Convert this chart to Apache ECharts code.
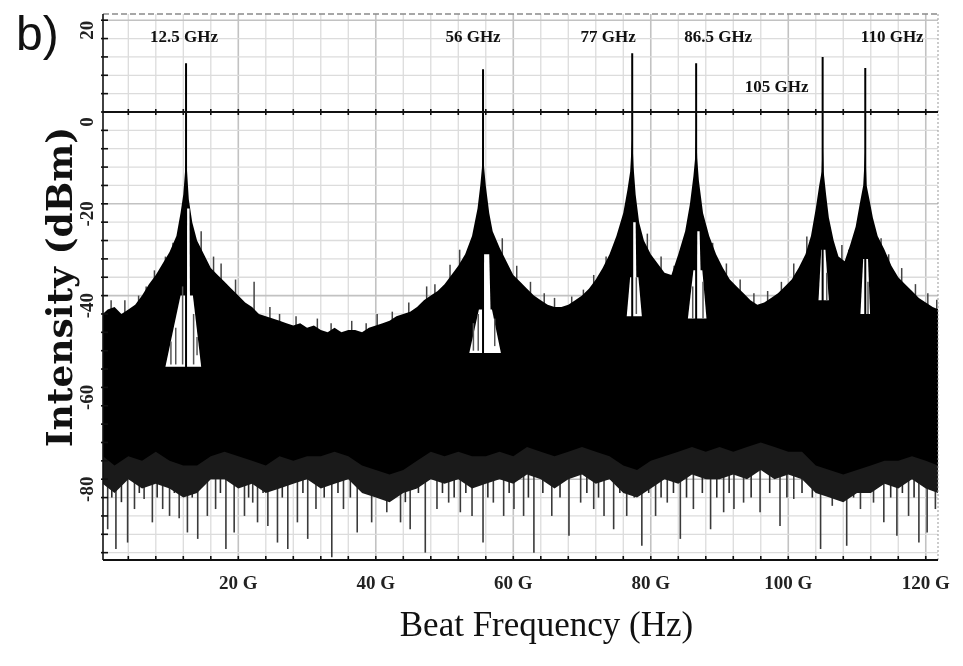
<!DOCTYPE html>
<html><head><meta charset="utf-8">
<script src="https://cdn.jsdelivr.net/npm/echarts@6/dist/echarts.min.js"></script>
<style>html,body{margin:0;padding:0;background:#fff}#c{width:963px;height:666px}</style>
</head><body><div id="c"></div>
<script>
// ---------- tick / grid values ----------
const xTickLabels = [20, 40, 60, 80, 100, 120];
const yTickLabels = [-80, -60, -40, -20, 0, 20];
const xGrid = [4, 8, 12, 16, 20, 24, 28, 32, 36, 40, 44, 48, 52, 56, 60, 64, 68, 72, 76, 80, 84, 88, 92, 96, 100, 104, 108, 112, 116, 120];
const yGrid = [-96, -92, -88, -84, -80, -76, -72, -68, -64, -60, -56, -52, -48, -44, -40, -36, -32, -28, -24, -20, -16, -12, -8, -4, 0, 4, 8, 12, 16, 20];

// ---------- spectrum: top of the dense trace (GHz, dBm) ----------
const upperF = [0.3, 1, 2, 3, 4, 5, 6, 7, 8, 9, 10, 11, 11.6, 12.0, 12.25, 12.4, 12.55, 12.8, 13.3, 14, 15, 16, 17, 18, 19, 20,
  21, 22, 23, 24, 25, 26, 27, 28, 29, 30, 31, 32, 33, 34, 35, 36, 37, 38, 39, 40, 41, 42, 43, 44, 45, 46, 47, 48, 49, 50,
  51, 52, 53, 54, 54.8, 55.2, 55.45, 55.6, 55.75, 56.0, 56.5, 57, 58, 59, 60, 61, 62, 63, 64, 65, 66, 67, 68, 69, 70,
  71, 72, 73, 74, 75, 76, 76.6, 77.0, 77.3, 77.5, 77.8, 78.3, 79, 80, 81, 82, 83, 84, 85, 85.7, 86.2, 86.45, 86.6, 86.75, 87.0, 87.6, 88.5,
  89.5, 90.5, 91.5, 92.5, 93.5, 94.5, 95.5, 96.5, 97.5, 98.5, 99.5, 100.5, 101.5, 102.5, 103.3, 104, 104.5, 104.85, 105.0, 105.15, 105.5, 105.9,
  106.6, 107.3, 108.2, 109, 109.8, 110.4, 110.9, 111.2, 111.4, 111.8, 112.3, 113, 114, 115, 116, 117, 118, 119, 120, 121, 121.8];
const upperDb = [-44, -43, -42.5, -44, -43, -42, -40, -37.5, -35.5, -33, -30.5, -27, -22, -18, -13, -10, -13, -19, -24, -28, -31, -34, -35.5, -37, -38.5, -40,
  -41.5, -42.5, -44, -44.5, -45, -45.5, -46, -46.5, -46, -47, -46.5, -47.5, -48, -47, -48, -47.5, -47.5, -48, -47, -46.5, -46, -45.5, -44.5, -44, -43.5, -42.5, -41, -40, -39, -37.5,
  -35.5, -33.5, -31, -27, -21, -16, -12, -6, -12, -16, -22, -26, -29.5, -32.5, -35.5, -37, -38.5, -40, -41, -42, -42.5, -42.5, -42, -41, -40,
  -38.5, -36.5, -34, -31, -27, -22, -17, -13, -5, -12, -18, -24, -28, -31, -33, -35, -35.5, -31, -26, -20, -14, -10, -2.5, -10, -15, -22, -27,
  -31, -34, -36.5, -38, -39.5, -41, -42, -41.5, -40.5, -39.5, -38, -36.5, -34, -31, -27, -21, -16, -13, -6, -13, -18, -23,
  -28, -31.5, -32.5, -29, -25, -20, -16, -7.6, -16, -19, -23, -27, -30, -33.5, -36, -37.5, -39, -40.5, -41.5, -42.5, -43];

// ---------- bottom of the solid trace and of the dense fringe ----------
const floorF = [0.3, 2, 4, 6, 8, 10, 12, 14, 16, 18, 20, 22, 24, 26, 28, 30, 32, 34, 36, 38, 40, 42, 44, 46, 48, 50, 52, 54, 56, 58, 60,
  62, 64, 66, 68, 70, 72, 74, 76, 78, 80, 82, 84, 86, 88, 90, 92, 94, 96, 98, 100, 102, 104, 106, 108, 110, 112, 114, 116, 118, 120, 121.8];
const floorDb = [-75, -77, -75, -76, -74, -76, -77, -77, -75, -74, -75, -76, -77, -75, -76, -75, -75, -74, -75, -77, -78, -79, -78, -76, -74, -75, -74, -75, -75, -74, -75,
  -73, -74, -75, -74, -73, -74, -75, -77, -78, -76, -75, -74, -73, -74, -73, -74, -73, -72, -73, -74, -74, -77, -78, -79, -78, -77, -76, -76, -75, -76, -77];
const fringeDb = [-81, -83, -80, -82, -81, -82, -84, -83, -80, -80, -82, -81, -83, -82, -81, -80, -82, -81, -80, -83, -84, -85, -83, -82, -80, -81, -80, -82, -81, -80, -81,
  -79, -80, -82, -80, -79, -81, -80, -83, -84, -82, -80, -81, -79, -80, -80, -79, -80, -78, -80, -79, -80, -83, -84, -85, -83, -83, -81, -82, -80, -82, -83];

// ---------- individual spikes below the trace (GHz, lowest dBm) ----------
const downSpikeF = [1.0, 2.2, 3.9, 4.9, 6.3, 7.5, 9.0, 10.0, 11.4, 12.6, 14.1, 15.5, 16.7, 18.2, 19.4, 20.9, 22.1, 22.8, 24.3, 25.7, 27.2, 28.6, 30.1, 31.3,
  33.6, 35.3, 37.3, 39.4, 41.6, 43.6, 45.0, 47.2, 48.9, 50.6, 52.3, 54.0, 55.6, 57.1, 58.6, 60.1, 61.5, 63.0,
  65.6, 68.1, 69.8, 71.7, 73.2, 74.6, 76.5, 78.7, 80.7, 82.4, 84.3, 86.2, 88.7, 90.6, 92.1, 93.5,
  95.9, 98.8, 100.8, 104.7, 106.4, 108.5, 110.5, 112.4, 113.9, 115.8, 117.5, 119.0, 120.2, 121.4];
const downSpikeDb = [-90.9, -95.2, -93.8, -86.5, -84.3, -89.4, -86.5, -88, -88.5, -91.6, -93.0, -88, -86.5, -95.2, -91.6, -88, -85.1, -89.4, -90.2, -93.8, -95.2, -89.4, -93.0, -86.5,
  -97, -86.5, -91.6, -89.4, -87.2, -89.4, -90.9, -96, -86.5, -85.1, -87.2, -88, -93.8, -85.1, -88, -86.5, -88, -96,
  -88, -92.3, -85.1, -86.5, -88, -90.9, -88, -94.5, -88, -85.1, -93.0, -86.5, -90.9, -87.2, -86.5, -85.1,
  -87.2, -90.2, -84.3, -95.2, -85.8, -94.5, -86.5, -85.1, -89.4, -92.3, -88, -93.8, -91.6, -86.5];
const shortSpikeF = [1.6, 3.0, 5.6, 8.2, 10.7, 13.3, 17.4, 21.5, 23.6, 26.4, 29.4, 32.5, 34.5, 36.3, 38.4, 40.5, 42.6, 44.3, 46.2, 49.7, 51.4, 53.1, 56.3, 59.4,
  62.2, 64.3, 66.8, 70.7, 72.4, 75.5, 77.6, 79.7, 81.5, 83.3, 85.2, 87.5, 89.6, 91.4, 94.6, 97.3, 99.8, 102.0, 103.5, 107.4, 109.5, 111.4, 114.9, 116.6, 118.3];
const shortSpikeDb = [-84, -85, -83, -84, -83, -84, -83, -84, -83, -84, -83, -84, -83, -84, -83, -84, -83, -85, -83, -83, -84, -83, -84, -83,
  -84, -83, -84, -83, -84, -83, -84, -83, -84, -83, -84, -83, -84, -83, -84, -83, -84, -83, -84, -83, -84, -83, -84, -83, -84];

// ---------- spikes rising above the trace (GHz, highest dBm) ----------
const upSpikeF = [1.5, 3.5, 5.5, 6.6, 7.8, 9.4, 10.5, 14.6, 16.4, 17.5, 19.6, 22.3, 24.6, 26, 28.4, 31.5, 33.5, 36.5, 38.6, 40.2, 42.4, 44.8, 47.4, 48.6, 50.8, 52.2,
  58.4, 60.5, 62.5, 64.5, 66, 68.5, 70.2, 71.7, 73.5, 79.5, 81.5, 83.4, 89, 91, 93, 95, 97, 99, 100.8, 102.7, 107.8, 108.8, 113.5, 114.6, 116.5, 118.5, 120.3, 121.6];
const upSpikeDb = [-41, -41, -40, -38, -34.5, -31.5, -28.5, -26, -31.5, -33, -36.5, -37, -42.5, -44, -44.5, -45, -46, -45.5, -46, -44, -43.5, -41.5, -38, -37.5, -33.3, -30,
  -27.5, -33.5, -37, -39.5, -40.5, -40.2, -38.7, -35.5, -31.5, -26.5, -31.5, -33.5, -28.5, -33, -36.5, -39.5, -39, -37, -33, -27.1, -29, -30, -27.5, -31, -34, -37.5, -39.5, -40.9];

// ---------- white holes beside the peaks (GHz at bottom / top, dBm low / high) ----------
const gapBotF0 = [12.5, 9.4, 55.7, 53.6, 77.3, 76.5, 86.7, 85.4, 104.4, 110.5];
const gapBotF1 = [13.0, 14.6, 56.8, 58.2, 77.95, 78.7, 87.3, 88.1, 105.9, 111.9];
const gapTopF0 = [12.55, 11.6, 55.75, 55.0, 77.35, 77.0, 86.75, 86.2, 104.8, 110.9];
const gapTopF1 = [12.9, 13.4, 56.5, 56.9, 77.8, 78.2, 87.1, 87.5, 105.4, 111.6];
const gapLo = [-50, -55.5, -50, -52.5, -43, -44.5, -38, -45, -41, -44];
const gapHi = [-21, -40, -31, -43, -24, -36, -26, -34.5, -30, -32];
// dark lines crossing the holes (GHz, low dBm, high dBm)
const gapLineF = [10.2, 10.9, 11.9, 13.5, 14.0, 54.2, 54.9, 57.3, 77.9, 86.1, 87.6, 105.6, 111.6];
const gapLineLo = [-55, -55, -55, -55, -53, -52, -52, -51, -44, -45, -45, -41, -44];
const gapLineHi = [-50, -47, -38, -44, -49, -46, -44, -45, -36, -38, -37, -35, -37];

// ---------- beat-note peaks ----------
const peakF = [12.4, 55.6, 77.3, 86.6, 105.0, 111.2];
const peakTop = [10.6, 9.3, 12.8, 10.6, 12.0, 9.6];
const peakLabels = ['12.5 GHz', '56 GHz', '77 GHz', '86.5 GHz', '105 GHz', '110 GHz'];

// ---------- layout (pixels), kept apart from data ----------
const labelLayout = [[-2, 38], [-10, 38], [-24, 38], [22, 38], [-46, 88], [27, 38]]; // [dx from peak, absolute y]

const chart = echarts.init(document.getElementById('c'), null, { renderer: 'canvas' });
const serif = '"Liberation Serif", "DejaVu Serif", serif';

function lineEl(x1, y1, x2, y2, stroke, lw, dash) {
  const st = { stroke: stroke, lineWidth: lw };
  if (dash) st.lineDash = dash;
  return { type: 'line', shape: { x1: x1, y1: y1, x2: x2, y2: y2 }, style: st };
}

const option = {
  animation: false,
  backgroundColor: '#fff',
  grid: { left: 103, top: 14, width: 835, height: 546 },
  xAxis: {
    type: 'value', min: 0.32, max: 121.78,
    splitLine: { show: false },
    axisLine: { show: false },
    axisTick: { show: false },
    axisLabel: {
      customValues: xTickLabels, margin: 15,
      formatter: v => v + ' G',
      fontFamily: serif, fontSize: 19, fontWeight: 'bold', color: '#222'
    },
    name: 'Beat Frequency (Hz)', nameLocation: 'middle', nameGap: 49, nameMoveOverlap: false,
    nameTextStyle: { fontFamily: serif, fontSize: 35, color: '#111', padding: [0, 0, 0, 52] }
  },
  yAxis: {
    type: 'value', min: -97.6, max: 21.35,
    splitLine: { show: false },
    axisLine: { show: false },
    axisTick: { show: false },
    axisLabel: {
      customValues: yTickLabels, rotate: 90, margin: 5,
      fontFamily: serif, fontSize: 19, fontWeight: 'bold', color: '#222',
      padding: [0, 20, 0, 0]
    },
    name: 'Intensity (dBm)', nameLocation: 'middle', nameRotate: 90, nameGap: 22, nameMoveOverlap: false,
    nameTextStyle: { fontFamily: '"DejaVu Serif", serif', fontSize: 36, fontWeight: 'bold', color: '#111' }
  },
  graphic: [{
    type: 'text', left: 16, top: 13,
    style: { text: 'b)', font: '48px "Liberation Sans", Arial, sans-serif', fill: '#111' }
  }],
  series: [
    // vertical grid lines
    {
      type: 'custom', z: 1, silent: true, clip: true,
      data: xGrid.map(v => [v, 0]),
      renderItem(params, api) {
        const v = api.value(0); const p = api.coord([v, 0]); const cs = params.coordSys;
        const major = v % 20 === 0;
        return lineEl(p[0], cs.y, p[0], cs.y + cs.height, major ? '#c2c2c2' : '#dcdcdc', major ? 1.6 : 1.3);
      }
    },
    // horizontal grid lines
    {
      type: 'custom', z: 1, silent: true, clip: true,
      data: yGrid.map(v => [0, v]),
      renderItem(params, api) {
        const v = api.value(1); const p = api.coord([0, v]); const cs = params.coordSys;
        const major = v % 20 === 0;
        return lineEl(cs.x, p[1], cs.x + cs.width, p[1], major ? '#c2c2c2' : '#dcdcdc', major ? 1.6 : 1.3);
      }
    },
    // downward spikes (drawn under the solid trace)
    {
      type: 'custom', z: 2, silent: true, clip: true,
      data: downSpikeF.map((f, i) => [f, downSpikeDb[i]]),
      renderItem(params, api) {
        const a = api.coord([api.value(0), -72]); const b = api.coord([api.value(0), api.value(1)]);
        return lineEl(a[0], a[1], b[0], b[1], '#3a3a3a', 1.6);
      }
    },
    {
      type: 'custom', z: 2, silent: true, clip: true,
      data: shortSpikeF.map((f, i) => [f, shortSpikeDb[i]]),
      renderItem(params, api) {
        const a = api.coord([api.value(0), -72]); const b = api.coord([api.value(0), api.value(1)]);
        return lineEl(a[0], a[1], b[0], b[1], '#2a2a2a', 1.6);
      }
    },
    // upward spikes
    {
      type: 'custom', z: 2, silent: true, clip: true,
      data: upSpikeF.map((f, i) => [f, upSpikeDb[i]]),
      renderItem(params, api) {
        const a = api.coord([api.value(0), -55]); const b = api.coord([api.value(0), api.value(1)]);
        return lineEl(a[0], a[1], b[0], b[1], '#444', 1.5);
      }
    },
    // dense fringe below the solid trace
    {
      type: 'custom', z: 3, silent: true, clip: true,
      data: [[floorF[0], floorDb[0]]],
      renderItem(params, api) {
        const pts = [];
        for (let i = 0; i < floorF.length; i++) pts.push(api.coord([floorF[i], floorDb[i] + 1]));
        for (let i = floorF.length - 1; i >= 0; i--) pts.push(api.coord([floorF[i], fringeDb[i]]));
        return { type: 'polygon', shape: { points: pts }, style: { fill: '#1a1a1a' } };
      }
    },
    // solid trace body
    {
      type: 'custom', z: 4, silent: true, clip: true,
      data: [[upperF[0], upperDb[0]]],
      renderItem(params, api) {
        const pts = [];
        for (let i = 0; i < upperF.length; i++) pts.push(api.coord([upperF[i], upperDb[i]]));
        for (let i = floorF.length - 1; i >= 0; i--) pts.push(api.coord([floorF[i], floorDb[i]]));
        return { type: 'polygon', shape: { points: pts }, style: { fill: '#000' } };
      }
    },
    // white holes
    {
      type: 'custom', z: 5, silent: true, clip: true,
      data: gapBotF0.map((f, i) => [f, gapLo[i], gapBotF1[i], gapHi[i], gapTopF0[i], gapTopF1[i]]),
      renderItem(params, api) {
        const lo = api.value(1), hi = api.value(3);
        const pts = [
          api.coord([api.value(0), lo]), api.coord([api.value(2), lo]),
          api.coord([api.value(5), hi]), api.coord([api.value(4), hi])
        ];
        return { type: 'polygon', shape: { points: pts }, style: { fill: '#fff' } };
      }
    },
    // dark lines inside the holes
    {
      type: 'custom', z: 5, silent: true, clip: true,
      data: gapLineF.map((f, i) => [f, gapLineLo[i], gapLineHi[i]]),
      renderItem(params, api) {
        const a = api.coord([api.value(0), api.value(1)]); const b = api.coord([api.value(0), api.value(2)]);
        return lineEl(a[0], a[1], b[0], b[1], '#555', 1.5);
      }
    },
    // peak lines
    {
      type: 'custom', z: 6, silent: true, clip: true,
      data: peakF.map((f, i) => [f, peakTop[i]]),
      renderItem(params, api) {
        const a = api.coord([api.value(0), -56]); const b = api.coord([api.value(0), api.value(1)]);
        return lineEl(a[0], a[1], b[0], b[1], '#000', 2);
      }
    },
    // frame, 0 dBm line and axes with ticks
    {
      type: 'custom', z: 7, silent: true, clip: false,
      data: [[0, 0]],
      renderItem(params, api) {
        const cs = params.coordSys; const ch = [];
        const y0 = api.coord([0, 0])[1];
        const yb = cs.y + cs.height; const xl = cs.x;
        ch.push(lineEl(cs.x, cs.y, cs.x + cs.width, cs.y, '#8a8a8a', 1.5, [6, 3]));
        ch.push(lineEl(cs.x + cs.width, cs.y, cs.x + cs.width, yb, '#9a9a9a', 1, [2, 2]));
        ch.push(lineEl(cs.x, y0, cs.x + cs.width, y0, '#111', 1.8));
        ch.push(lineEl(cs.x, yb, cs.x + cs.width, yb, '#111', 2));
        ch.push(lineEl(xl, cs.y, xl, yb, '#111', 1.6));
        for (const v of xGrid) {
          const x = api.coord([v, 0])[0];
          ch.push(lineEl(x, y0 - 3, x, y0 + 3, '#111', 1.6));
          ch.push(lineEl(x, yb - 4, x, yb + 1, '#111', 1.6));
        }
        for (const v of yGrid) {
          const y = api.coord([0, v])[1];
          ch.push(lineEl(xl - 2, y, xl + 5, y, '#111', 1.6));
        }
        return { type: 'group', children: ch };
      }
    },
    // peak labels
    {
      type: 'custom', z: 8, silent: true, clip: false,
      data: peakF.map((f, i) => [f, peakTop[i]]),
      renderItem(params, api) {
        const i = params.dataIndex;
        const x = api.coord([api.value(0), 0])[0] + labelLayout[i][0];
        return {
          type: 'text', x: x, y: labelLayout[i][1],
          style: { text: peakLabels[i], font: 'bold 17px ' + serif, fill: '#111', align: 'center', verticalAlign: 'middle' }
        };
      }
    }
  ]
};
chart.setOption(option);
</script>
</body></html>
